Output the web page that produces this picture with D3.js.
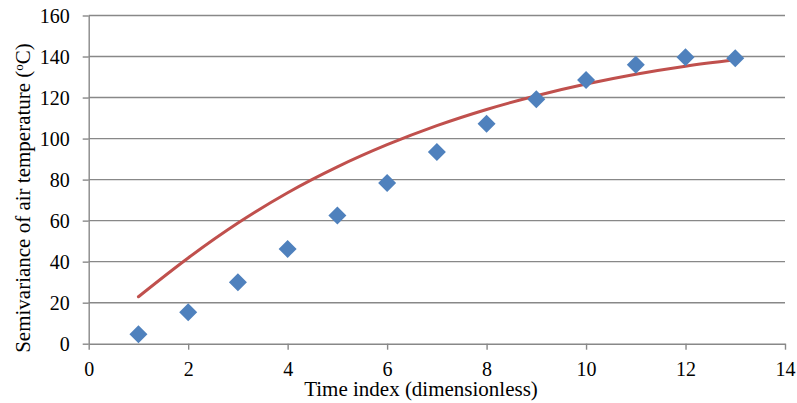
<!DOCTYPE html>
<html>
<head>
<meta charset="utf-8">
<script src="https://cdn.jsdelivr.net/npm/d3@7"></script>
<style>
  html, body { margin: 0; padding: 0; background: #fff; }
  svg { display: block; }
  svg text { font-family: "Liberation Serif", "Tinos", "Times New Roman", "DejaVu Serif", serif; fill: #000; }
</style>
</head>
<body>
<svg id="chart" width="797" height="403"></svg>
<script>
// Observed semivariance (blue diamonds)
const timeIndex = [1, 2, 3, 4, 5, 6, 7, 8, 9, 10, 11, 12, 13];
const semivariance = [4.6, 15.3, 30.0, 46.2, 62.5, 78.4, 93.5, 107.2, 119.2, 128.6, 136.0, 139.7, 139.2];
// Fitted model curve (red line), read at each time index
const fittedModel = [22.9, 41.8, 58.8, 73.6, 86.2, 97.0, 106.3, 114.2, 120.9, 126.6, 131.4, 135.3, 138.4];
// Axis ticks
const xTicks = [0, 2, 4, 6, 8, 10, 12, 14];
const yTicks = [0, 20, 40, 60, 80, 100, 120, 140, 160];

const svg = d3.select("#chart");
const plotLeft = 88.7, plotRight = 785, plotTop = 15.5, plotBottom = 343.7;

const x = d3.scaleLinear().domain([0, 14]).range([plotLeft, plotRight]);
const y = d3.scaleLinear().domain([0, 160]).range([plotBottom, plotTop]);

const gridColor = "#888888";
const serif = "'Liberation Serif', 'Tinos', 'Times New Roman', 'DejaVu Serif', serif";

// Horizontal gridlines
svg.append("g")
  .selectAll("line")
  .data(yTicks.filter(d => d > 0))
  .join("line")
  .attr("x1", plotLeft).attr("x2", plotRight)
  .attr("y1", d => y(d)).attr("y2", d => y(d))
  .attr("stroke", gridColor).attr("stroke-width", 1.4);

// Y axis
const yAxis = svg.append("g")
  .attr("transform", `translate(${plotLeft},0)`)
  .call(d3.axisLeft(y).tickValues(yTicks).tickSize(6).tickPadding(13).tickSizeOuter(0))
  .attr("font-family", serif);
yAxis.select(".domain").attr("stroke", gridColor).attr("stroke-width", 1.4);
yAxis.selectAll(".tick line").attr("stroke", gridColor).attr("stroke-width", 1.4);
yAxis.selectAll(".tick text")
  .attr("font-size", 20)
  .style("font-family", serif)
  .attr("dy", "0.33em");

// X axis
const xAxis = svg.append("g")
  .attr("transform", `translate(0,${plotBottom})`)
  .call(d3.axisBottom(x).tickValues(xTicks).tickSize(6).tickPadding(12).tickSizeOuter(0))
  .attr("font-family", serif);
xAxis.select(".domain").attr("stroke", gridColor).attr("stroke-width", 1.4);
xAxis.selectAll(".tick line").attr("stroke", gridColor).attr("stroke-width", 1.4);
xAxis.selectAll(".tick text")
  .attr("font-size", 20)
  .style("font-family", serif);

// Fitted curve
const line = d3.line()
  .x((d, i) => x(timeIndex[i]))
  .y(d => y(d))
  .curve(d3.curveMonotoneX);
svg.append("path")
  .datum(fittedModel)
  .attr("d", line)
  .attr("fill", "none")
  .attr("stroke", "#C0504D")
  .attr("stroke-width", 3)
  .attr("stroke-linecap", "round");

// Diamonds
const r = 9;
svg.append("g")
  .selectAll("path")
  .data(semivariance)
  .join("path")
  .attr("transform", (d, i) => `translate(${x(timeIndex[i])},${y(d)})`)
  .attr("d", `M0,${-r}L${r},0L0,${r}L${-r},0Z`)
  .attr("fill", "#4F81BD");

// Axis titles
svg.append("text")
  .attr("x", 421).attr("y", 396)
  .attr("text-anchor", "middle")
  .attr("font-size", 21)
  .style("font-family", serif)
  .text("Time index (dimensionless)");

const yt = svg.append("text")
  .attr("transform", "translate(30,198) rotate(-90)")
  .attr("text-anchor", "middle")
  .attr("font-size", 21)
  .style("font-family", serif);
yt.append("tspan").text("Semivariance of air temperature (");
yt.append("tspan").attr("font-size", 13).attr("dy", -7).text("o");
yt.append("tspan").attr("dy", 7).text("C)");
</script>
</body>
</html>
